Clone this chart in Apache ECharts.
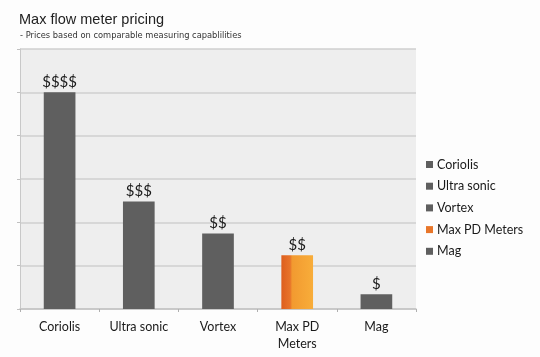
<!DOCTYPE html>
<html><head><meta charset="utf-8">
<script src="https://cdn.jsdelivr.net/npm/echarts@6/dist/echarts.min.js"></script>
<style>html,body{margin:0;padding:0;background:#fdfdfd;}#c{width:540px;height:357px;}</style>
</head><body><div id="c"></div>
<script>
const categories = ['Coriolis', 'Ultra sonic', 'Vortex', 'Max PD Meters', 'Mag'];
const axisLabels = ['Coriolis', 'Ultra sonic', 'Vortex', 'Max PD\nMeters', 'Mag'];
const values = [5, 2.48, 1.74, 1.24, 0.34];
const priceLabels = ['$$$$', '$$$', '$$', '$$', '$'];

const gray = '#5f5f5f';
const orangeGrad = {type:'linear', x:0, y:0, x2:1, y2:0, colorStops:[
  {offset:0, color:'#dd5e1e'}, {offset:0.28, color:'#e8742a'}, {offset:0.34, color:'#f29a30'}, {offset:1, color:'#f8ad3a'}]};
const colors = [gray, gray, gray, orangeGrad, gray];
const legendColors = [gray, gray, gray, '#e8762a', gray];

const chart = echarts.init(document.getElementById('c'));
const series = categories.map((name, i) => ({
  name: name,
  type: 'bar',
  barWidth: '40%',
  barGap: '-100%',
  itemStyle: {color: colors[i]},
  label: {show: true, position: 'top', distance: 3, formatter: () => priceLabels[i],
    color: '#1a1a1a', fontSize: 15, fontFamily: 'Lato'},
  data: categories.map((c, j) => j === i ? values[i] : '-')
}));
chart.setOption({
  animation: false,
  backgroundColor: '#fdfdfd',
  color: legendColors,
  title: [
    {text: 'Max flow meter pricing', left: 14, top: 7, textStyle: {fontSize: 14.5, fontWeight: 'normal', color: '#222', fontFamily: 'Liberation Sans'}},
    {text: '- Prices based on comparable measuring capablilities', left: 15, top: 27, textStyle: {fontSize: 8.3, fontWeight: 'normal', color: '#333', fontFamily: 'DejaVu Sans'}}
  ],
  legend: {
    orient: 'vertical', left: 421, top: 153, itemWidth: 7, itemHeight: 7, itemGap: 8.7, icon: 'rect',
    textStyle: {fontSize: 12.5, color: '#1a1a1a', fontFamily: 'Lato', padding: [0,0,0,-1]},
    data: categories.map((c, i) => ({name: c, itemStyle: {color: legendColors[i]}}))
  },
  grid: {left: 20, right: 124, top: 49, bottom: 48, show: true, backgroundColor: '#eeeeee', borderWidth: 0},
  xAxis: {
    type: 'category', data: categories,
    axisLine: {lineStyle: {color: '#c4c4c4', width: 1.5}},
    axisTick: {show: true, length: 3, lineStyle: {color: '#b0b0b0'}},
    axisLabel: {formatter: (v, i) => axisLabels[i], color: '#1a1a1a', fontSize: 12.5, fontFamily: 'Lato', margin: 9, lineHeight: 17}
  },
  yAxis: {
    type: 'value', min: 0, max: 6, interval: 1,
    axisLabel: {show: false},
    axisLine: {show: true, lineStyle: {color: '#c8c8c8'}},
    axisTick: {show: true, length: 3, lineStyle: {color: '#c0c0c0'}},
    splitLine: {lineStyle: {color: '#cfcfcf', width: 1.5}}
  },
  series: series
});
</script></body></html>
